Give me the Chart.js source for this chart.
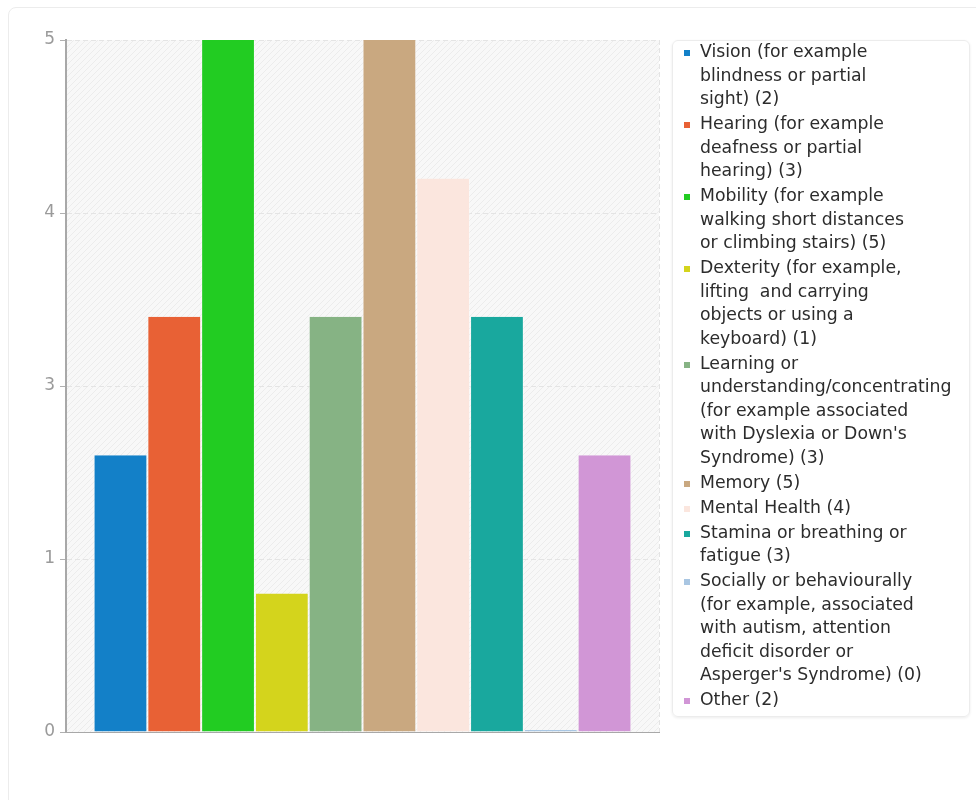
<!DOCTYPE html>
<html>
<head>
<meta charset="utf-8">
<script src="https://cdn.jsdelivr.net/npm/chart.js@4/dist/chart.umd.min.js"></script>
<style>
  html, body { margin: 0; padding: 0; background: #fff; }
  body { width: 976px; height: 800px; position: relative; overflow: hidden; font-family: "DejaVu Sans", sans-serif; }
  .card { position: absolute; left: 8px; top: 7px; width: 990px; height: 820px; border: 1px solid #ececec; border-radius: 8px; box-sizing: border-box; }
  #wrap { position: absolute; left: 0; top: 0; width: 976px; height: 800px; }
  .legend { position: absolute; left: 672px; top: 40px; width: 298px; height: 677px; box-sizing: border-box;
            border: 1px solid #ececec; border-radius: 6px; box-shadow: 0 1px 3px rgba(0,0,0,0.08); }
  .legend ul { list-style: none; margin: 0; padding: 0; position: absolute; left: 11px; top: -1px; }
  .legend li { position: relative; padding-left: 16px; margin-bottom: 1.5px; font-size: 17.3px; line-height: 23.5px; color: #2c2c2c; white-space: pre; }
  .legend li span.sw { position: absolute; left: 0; top: 10px; width: 6px; height: 6px; }
</style>
</head>
<body>
<div class="card"></div>
<div id="wrap"><canvas id="c" width="976" height="800"></canvas></div>
<div class="legend"><ul id="legend"></ul></div>
<script>
// Disability categories (legend lines split with \n) and respondent counts
const categories = [
  "Vision (for example\nblindness or partial\nsight)",
  "Hearing (for example\ndeafness or partial\nhearing)",
  "Mobility (for example\nwalking short distances\nor climbing stairs)",
  "Dexterity (for example,\nlifting  and carrying\nobjects or using a\nkeyboard)",
  "Learning or\nunderstanding/concentrating\n(for example associated\nwith Dyslexia or Down's\nSyndrome)",
  "Memory",
  "Mental Health",
  "Stamina or breathing or\nfatigue",
  "Socially or behaviourally\n(for example, associated\nwith autism, attention\ndeficit disorder or\nAsperger's Syndrome)",
  "Other"
];
const counts = [2, 3, 5, 1, 3, 5, 4, 3, 0, 2];
const colors = ["#1380c8", "#e86135", "#22cc22", "#d4d41c", "#86b384", "#c9a880", "#fbe6de", "#19a89e", "#a9c6e2", "#d196d6"];
const yTicks = [0, 1.25, 2.5, 3.75, 5];

// Hatched plot background
function hatchPattern(ctx) {
  const p = document.createElement("canvas");
  p.width = 6; p.height = 6;
  const g = p.getContext("2d");
  g.fillStyle = "#f8f8f8";
  g.fillRect(0, 0, 6, 6);
  g.strokeStyle = "#ececec";
  g.lineWidth = 1;
  g.beginPath();
  g.moveTo(0, 6); g.lineTo(6, 0);
  g.moveTo(-1, 1); g.lineTo(1, -1);
  g.moveTo(5, 7); g.lineTo(7, 5);
  g.stroke();
  return ctx.createPattern(p, "repeat");
}

const plotBackground = {
  id: "plotBackground",
  beforeDraw(chart) {
    const { ctx, chartArea: a } = chart;
    ctx.save();
    ctx.fillStyle = hatchPattern(ctx);
    ctx.fillRect(a.left, a.top, a.right - a.left, a.bottom - a.top);
    ctx.restore();
  }
};

const labelText = i => categories[i] + " (" + counts[i] + ")";

const ctx = document.getElementById("c").getContext("2d");
new Chart(ctx, {
  type: "bar",
  data: {
    labels: [""],
    datasets: categories.map((name, i) => ({
      label: labelText(i).replace(/\n/g, " "),
      data: [counts[i]],
      backgroundColor: colors[i],
      borderColor: "rgba(255,255,255,0.35)",
      borderWidth: { left: 1, right: 1, top: 0, bottom: 0 },
      borderSkipped: false,
      categoryPercentage: 0.907,
      barPercentage: 1,
      minBarLength: i === 8 ? 2 : 0
    }))
  },
  options: {
    responsive: false,
    animation: false,
    events: [],
    layout: { padding: { left: 0, top: 40, right: 317, bottom: 68 } },
    plugins: { legend: { display: false }, tooltip: { enabled: false } },
    scales: {
      x: {
        offset: true,
        ticks: { display: false },
        grid: { color: "#e4e4e4", drawTicks: false, lineWidth: 1 },
        border: { display: true, color: "#a8a8a8", width: 1, dash: [5, 3] },
        afterFit(s) { s.height = 0; }
      },
      y: {
        min: 0,
        max: 5,
        afterBuildTicks(s) { s.ticks = yTicks.map(v => ({ value: v })); },
        ticks: {
          color: "#9a9a9a",
          font: { family: "DejaVu Sans", size: 17 },
          padding: 5,
          callback: v => String(Math.round(v))
        },
        grid: { color: "#e4e4e4", tickColor: "#b0b0b0", tickLength: 6, tickBorderDash: [], lineWidth: 1 },
        border: { display: true, color: "#a8a8a8", width: 2, dash: [5, 3] },
        afterFit(s) { s.width = 66; }
      }
    }
  },
  plugins: [plotBackground]
});

// Legend list
const ul = document.getElementById("legend");
categories.forEach((name, i) => {
  const li = document.createElement("li");
  const sw = document.createElement("span");
  sw.className = "sw";
  sw.style.background = colors[i];
  li.appendChild(sw);
  li.appendChild(document.createTextNode(labelText(i)));
  ul.appendChild(li);
});
</script>
</body>
</html>
